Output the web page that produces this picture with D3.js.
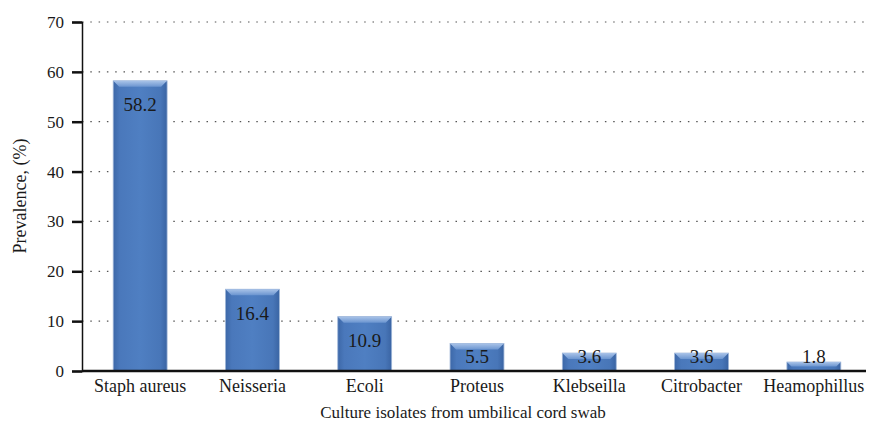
<!DOCTYPE html>
<html>
<head>
<meta charset="utf-8">
<script src="https://cdn.jsdelivr.net/npm/d3@7"></script>
<style>
  body { margin: 0; background: #fff; }
  text { font-family: "Liberation Serif", "DejaVu Serif", serif; fill: #1a1a1a; }
</style>
</head>
<body>
<div id="chart"></div>
<script>
const categories = ["Staph aureus", "Neisseria", "Ecoli", "Proteus", "Klebseilla", "Citrobacter", "Heamophillus"];
const values = [58.2, 16.4, 10.9, 5.5, 3.6, 3.6, 1.8];
const yTicks = [0, 10, 20, 30, 40, 50, 60, 70];

const width = 877, height = 425;
const margin = {top: 22, right: 11, bottom: 54, left: 82};
const chartW = width - margin.left - margin.right;
const chartH = height - margin.top - margin.bottom;

const svg = d3.select('#chart').append('svg')
  .attr('width', width)
  .attr('height', height);

// bar gradients
const defs = svg.append('defs');
const grad = defs.append('linearGradient').attr('id', 'barGrad')
  .attr('x1', 0).attr('x2', 1).attr('y1', 0).attr('y2', 0);
grad.append('stop').attr('offset', '0%').attr('stop-color', '#3d68a8');
grad.append('stop').attr('offset', '12%').attr('stop-color', '#4a78bb');
grad.append('stop').attr('offset', '50%').attr('stop-color', '#4f7fc2');
grad.append('stop').attr('offset', '88%').attr('stop-color', '#4876b8');
grad.append('stop').attr('offset', '100%').attr('stop-color', '#3a64a3');
const topGrad = defs.append('linearGradient').attr('id', 'topGrad')
  .attr('x1', 0).attr('x2', 0).attr('y1', 0).attr('y2', 1);
topGrad.append('stop').attr('offset', '0%').attr('stop-color', '#a9c3e8');
topGrad.append('stop').attr('offset', '100%').attr('stop-color', '#6b95d0');

const chart = svg.append('g')
  .attr('transform', `translate(${margin.left}, ${margin.top})`);

const x = d3.scaleBand()
  .domain(categories)
  .range([2, 788])
  .paddingInner(0.52)
  .paddingOuter(0.26);

const y = d3.scaleLinear()
  .domain([0, 70])
  .range([chartH, 0]);

// dotted gridlines
chart.selectAll('.grid')
  .data(yTicks.filter(d => d > 0))
  .join('line')
  .attr('class', 'grid')
  .attr('x1', 0)
  .attr('x2', chartW)
  .attr('y1', d => y(d))
  .attr('y2', d => y(d))
  .attr('stroke', '#555')
  .attr('stroke-width', 1.2)
  .attr('stroke-dasharray', '1.5,6.8');

// y axis
const axisY = chart.append('g')
  .call(d3.axisLeft(y).tickValues(yTicks).tickSize(10).tickPadding(8).tickFormat(d3.format('d')));
axisY.attr('font-family', null);
axisY.select('.domain').attr('stroke', '#111').attr('stroke-width', 1.5);
axisY.selectAll('.tick line').attr('stroke', '#111').attr('stroke-width', 2.5);
axisY.selectAll('.tick text')
  .style('font-size', '17px')
  .attr('fill', '#1a1a1a');

// bars
const data = categories.map((c, i) => ({key: c, value: values[i]}));
const bars = chart.selectAll('.bar')
  .data(data)
  .join('g')
  .attr('class', 'bar');

const bw = x.bandwidth();
bars.append('rect')
  .attr('x', d => x(d.key))
  .attr('y', d => y(d.value))
  .attr('width', bw)
  .attr('height', d => chartH - y(d.value))
  .attr('fill', 'url(#barGrad)')
  .attr('stroke', '#9fb6d8')
  .attr('stroke-width', 0.8);

// top bevel
bars.append('path')
  .attr('d', d => {
    const x0 = x(d.key), x1 = x0 + bw, y0 = y(d.value);
    const b = Math.min(6, (chartH - y0) / 2);
    return `M${x0},${y0}L${x1},${y0}L${x1 - b},${y0 + b}L${x0 + b},${y0 + b}Z`;
  })
  .attr('fill', 'url(#topGrad)');

// x axis baseline
chart.append('line')
  .attr('x1', 0).attr('x2', chartW)
  .attr('y1', chartH).attr('y2', chartH)
  .attr('stroke', '#111')
  .attr('stroke-width', 2.5);

// value labels
bars.append('text')
  .attr('x', d => x(d.key) + bw / 2)
  .attr('y', d => Math.min(y(d.value) + 24, chartH - 15))
  .attr('text-anchor', 'middle')
  .attr('dominant-baseline', 'central')
  .style('font-size', '19px')
  .text(d => d.value.toFixed(1));

// category labels
chart.selectAll('.cat')
  .data(categories)
  .join('text')
  .attr('class', 'cat')
  .attr('x', d => x(d) + bw / 2)
  .attr('y', chartH + 21)
  .attr('text-anchor', 'middle')
  .style('font-size', '18px')
  .text(d => d);

// axis titles
svg.append('text')
  .attr('x', 463)
  .attr('y', 418)
  .attr('text-anchor', 'middle')
  .style('font-size', '17px')
  .text('Culture isolates from umbilical cord swab');

svg.append('text')
  .attr('transform', 'translate(26, 196) rotate(-90)')
  .attr('text-anchor', 'middle')
  .style('font-size', '18px')
  .text('Prevalence, (%)');
</script>
</body>
</html>
